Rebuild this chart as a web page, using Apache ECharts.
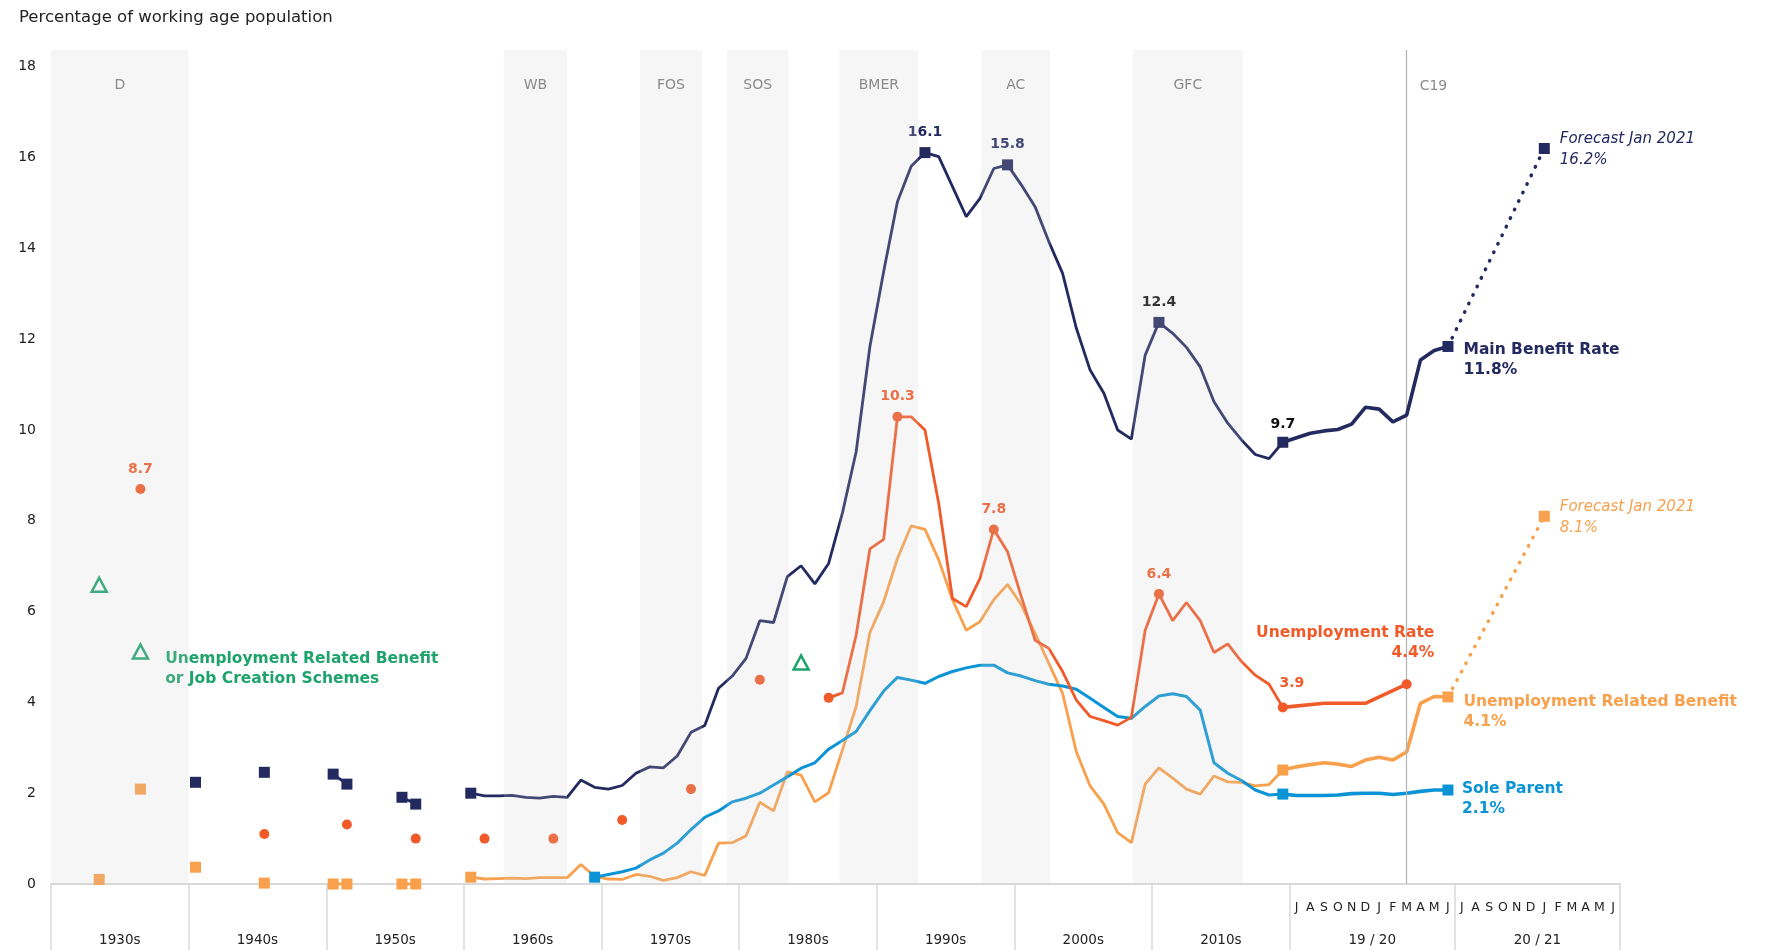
<!DOCTYPE html>
<html>
<head>
<meta charset="utf-8">
<script src="https://cdn.jsdelivr.net/npm/echarts@6/dist/echarts.min.js"></script>
<style>
html,body{margin:0;padding:0;background:#fff}
#chart{width:1780px;height:950px}
</style>
</head>
<body>
<div id="chart"></div>
<script>
// x axis cells: decades, then two July-June years shown month by month
var cellEdges = [1930,1940,1950,1960,1970,1980,1990,2000,2010,2020,2032,2044]
var cellLabels = ['1930s','1940s','1950s','1960s','1970s','1980s','1990s','2000s','2010s','19 / 20','20 / 21']
var monthLetters = ['J','A','S','O','N','D','J','F','M','A','M','J','J','A','S','O','N','D','J','F','M','A','M','J']

// shaded events [label, from, to]
var events = [['D',1930,1940],['WB',1962.9,1967.5],['FOS',1972.8,1977.3],['SOS',1979.1,1983.6],
	['BMER',1987.3,1993.0],['AC',1997.6,2002.6],['GFC',2008.6,2016.6]]
var covidMonth = 9      // March 2020, months after June 2019
var forecastMonth = 19  // January 2021

// Main Benefit Rate
var mainEarlyYears = [1940,1945,1950,1951,1955,1956]
var mainEarly = [2.24,2.46,2.42,2.20,1.91,1.76]
var mainFirstYear = 1960
var mainAnnual = [2.00,1.94,1.94,1.95,1.91,1.89,1.93,1.91,2.29,2.13,
	2.09,2.17,2.44,2.58,2.56,2.82,3.34,3.49,4.31,4.58,
	4.97,5.80,5.76,6.77,7.01,6.61,7.06,8.17,9.52,11.84,
	13.49,15.03,15.81,16.11,16.02,15.36,14.70,15.10,15.76,15.84,
	15.40,14.92,14.15,13.45,12.24,11.32,10.81,10.00,9.80,11.65,
	12.37,12.13,11.82,11.39,10.62,10.15,9.78,9.46,9.37,9.73]
var mainMonthly = [9.73,9.83,9.93,9.98,10.01,10.13,10.50,10.46,10.18,10.33,11.54,11.75,11.84] // Jun 2019 - Jun 2020
var mainForecast = 16.2
var mainPeaks = [1993,1999,2010,2019]

// Unemployment Rate
var urEarlyYears = [1936,1945,1951,1956,1961,1966,1971,1976,1981]
var urEarly = [8.7,1.10,1.31,1.00,1.00,1.00,1.41,2.09,4.50]
var urFirstYear = 1986
var urAnnual = [4.10,4.21,5.48,7.38,7.59,10.29,10.29,10.00,8.38,6.29,
	6.11,6.73,7.81,7.32,6.33,5.37,5.19,4.68,4.05,3.69,
	3.60,3.50,3.67,5.59,6.39,5.80,6.20,5.80,5.10,5.29,
	4.90,4.60,4.40,3.89]
var urQuarterMonths = [0,3,6,9]
var urQuarterly = [3.89,3.98,3.98,4.40]
var urPeaks = [1991,1998,2010]

// Unemployment Related Benefit
var urbEarlyYears = [1933,1936,1940,1945,1950,1951,1955,1956]
var urbEarly = [0.10,2.09,0.37,0.02,0,0,0,0]
var urbFirstYear = 1960
var urbAnnual = [0.15,0.11,0.12,0.13,0.12,0.14,0.14,0.14,0.43,0.17,
	0.11,0.10,0.21,0.17,0.08,0.14,0.27,0.19,0.90,0.91,
	1.06,1.80,1.61,2.47,2.40,1.81,2.01,2.95,3.91,5.54,
	6.22,7.17,7.89,7.81,7.14,6.26,5.59,5.78,6.26,6.60,
	6.15,5.52,4.86,4.20,2.91,2.16,1.76,1.13,0.91,2.20,
	2.56,2.33,2.09,1.98,2.38,2.25,2.24,2.16,2.19,2.51]
var urbMonthly = [2.51,2.58,2.63,2.67,2.64,2.59,2.73,2.79,2.73,2.91,3.98,4.13,4.12]
var urbForecast = 8.1

// Sole Parent
var soleFirstYear = 1969
var soleAnnual = [0.15,0.21,0.27,0.35,0.53,0.68,0.90,1.20,1.47,1.61,
	1.81,1.89,2.00,2.18,2.36,2.55,2.67,2.97,3.16,3.36,
	3.82,4.25,4.55,4.49,4.42,4.57,4.68,4.76,4.82,4.82,
	4.65,4.58,4.48,4.40,4.36,4.29,4.09,3.89,3.69,3.65,
	3.91,4.14,4.19,4.13,3.83,2.67,2.44,2.28,2.07,1.96,1.98]
var soleMonthly = [1.98,1.95,1.95,1.95,1.96,1.99,2.00,2.00,1.97,2.00,2.04,2.07,2.07]

// Unemployment Related Benefit or Job Creation Schemes
var jobYears = [1933,1936,1984]
var jobValues = [6.59,5.12,4.88]

var NAVY = '#232a5f', RED = '#f15a29', ORANGE = '#f8a04c', BLUE = '#0b94d5', GREEN = '#1ea36d'
var INK = '#222222', GREY = '#8a8a8a'
var FONT = 'DejaVu Sans'
var Y_MAX = 18.37

function yx(y){ return y + 0.5 }        // annual point sits mid-year
function mx(i){ return 2019.5 + i }     // i months after June 2019

function annual(first, vals){
	return vals.map(function(v, i){ return [yx(first + i), v] })
}
function monthly(vals){
	return vals.map(function(v, i){ return [mx(i), v] })
}
function withGaps(years, vals){ // join only consecutive years
	var out = []
	for(var i = 0; i < years.length; i++){
		if(i > 0 && years[i] - years[i-1] > 1) out.push([years[i] - 0.5, '-'])
		out.push([yx(years[i]), vals[i]])
	}
	return out
}
function line(data, color, width, z){
	return {type:'line', data:data, symbol:'none', silent:true, z:z,
		lineStyle:{color:color, width:width}, itemStyle:{color:color}}
}
function dotted(from, to, color, z){
	return {type:'line', data:[from, to], symbol:'none', silent:true, z:z,
		lineStyle:{color:color, width:3.5, type:[0.5, 9], cap:'round'}}
}
function peak(x, v, color, extra){
	var lab = {show:true, position:'top', distance:8, formatter:v.toFixed(1),
		color:color, fontWeight:'bold', fontSize:14}
	for(var k in extra) lab[k] = extra[k]
	return {value:[x, v], label:lab}
}
function endLabel(x, v, text, color, pos, italic){
	return {value:[x, v], label:{show:true, position:pos, align:'left', verticalAlign:'middle',
		formatter:text, color:color, fontSize: italic ? 15 : 15.5, lineHeight: italic ? 21 : 20,
		fontWeight: italic ? 'normal' : 'bold', fontStyle: italic ? 'italic' : 'normal'}}
}
function markers(data, symbol, size, color, z){
	return {type:'scatter', data:data, symbol:symbol, symbolSize:size, silent:true, z:z,
		itemStyle:{color:color, opacity:1}, label:{show:false}}
}

var mainLast = mainMonthly[mainMonthly.length-1]
var urbLast = urbMonthly[urbMonthly.length-1]
var soleLast = soleMonthly[soleMonthly.length-1]
var urLast = urQuarterly[urQuarterly.length-1]

var mainMarks = [{value:[yx(mainFirstYear), mainAnnual[0]]}]
mainPeaks.forEach(function(y){
	var v = mainAnnual[y - mainFirstYear]
	mainMarks.push(peak(yx(y), v, y >= 2010 ? '#111111' : NAVY, y == 2019 ? {distance:5} : {}))
})
mainMarks.push(endLabel(mx(12), mainLast, 'Main Benefit Rate\n' + mainLast.toFixed(1) + '%', NAVY, [21, 19.5]))
mainMarks.push(endLabel(mx(forecastMonth), mainForecast, 'Forecast Jan 2021\n' + mainForecast.toFixed(1) + '%', NAVY, [21, 7], true))

var urMarks = []
urEarlyYears.forEach(function(y, i){
	urMarks.push(i == 0 ? peak(yx(y), urEarly[i], RED) : {value:[yx(y), urEarly[i]]})
})
urMarks.push({value:[yx(urFirstYear), urAnnual[0]]})
urPeaks.forEach(function(y){ urMarks.push(peak(yx(y), urAnnual[y - urFirstYear], RED)) })
urMarks.push({value:[mx(0), urQuarterly[0]], label:{show:true, position:[14, -19], align:'center',
	verticalAlign:'middle', formatter:urQuarterly[0].toFixed(1), color:RED, fontWeight:'bold', fontSize:14}})
urMarks.push({value:[mx(urQuarterMonths[3]), urLast], label:{show:true, position:[32.7, -36], align:'right',
	verticalAlign:'middle', formatter:'Unemployment Rate\n' + urLast.toFixed(1) + '%', color:RED,
	fontWeight:'bold', fontSize:15.5, lineHeight:20}})

var urbMarks = [{value:[yx(urbFirstYear), urbAnnual[0]]}, {value:[mx(0), urbMonthly[0]]},
	endLabel(mx(12), urbLast, 'Unemployment Related Benefit\n' + urbLast.toFixed(1) + '%', ORANGE, [21, 20.5]),
	endLabel(mx(forecastMonth), urbForecast, 'Forecast Jan 2021\n' + urbForecast.toFixed(1) + '%', ORANGE, [21, 7], true)]

var soleMarks = [{value:[yx(soleFirstYear), soleAnnual[0]]}, {value:[mx(0), soleMonthly[0]]},
	endLabel(mx(12), soleLast, 'Sole Parent\n' + soleLast.toFixed(1) + '%', BLUE, [19.5, 14])]

var jobMarks = jobYears.map(function(y, i){
	var d = {value:[yx(y), jobValues[i]]}
	if(i == 1) d.label = {show:true, position:[33.5, 25.5], align:'left', verticalAlign:'middle',
		formatter:'Unemployment Related Benefit\nor Job Creation Schemes', color:GREEN,
		fontWeight:'bold', fontSize:15.5, lineHeight:20}
	return d
})

var cellMids = []
for(var i = 0; i < cellEdges.length - 1; i++) cellMids.push((cellEdges[i] + cellEdges[i+1]) / 2)
var monthMids = monthLetters.map(function(m, i){ return 2020.5 + i })

var chart = echarts.init(document.getElementById('chart'))
chart.setOption({
	animation:false,
	textStyle:{fontFamily:FONT},
	title:{text:'Percentage of working age population', left:14, top:4,
		textStyle:{fontFamily:FONT, fontSize:16.5, fontWeight:'normal', color:INK}},
	grid:{left:51, right:160, top:50, bottom:66},
	xAxis:[{
		type:'value', min:1930, max:2044, position:'bottom',
		axisLine:{show:true, onZero:false, lineStyle:{color:'#d9d9d9', width:2}},
		axisTick:{show:true, customValues:cellEdges, length:66, lineStyle:{color:'#d9d9d9', width:1.5}},
		axisLabel:{customValues:cellMids, margin:49, fontSize:13.5, color:INK,
			formatter:function(v){
				for(var i = 0; i < cellMids.length; i++) if(Math.abs(cellMids[i] - v) < 0.01) return cellLabels[i]
				return ''
			}},
		splitLine:{show:false}
	},{
		type:'value', min:1930, max:2044, position:'bottom',
		axisLine:{show:false}, axisTick:{show:false}, splitLine:{show:false},
		axisLabel:{customValues:monthMids, margin:17, fontSize:12.5, color:INK,
			formatter:function(v){ return monthLetters[Math.round(v - 2020.5)] || '' }}
	}],
	yAxis:{type:'value', min:0, max:Y_MAX, interval:2,
		axisLine:{show:false}, axisTick:{show:false}, splitLine:{show:false},
		axisLabel:{fontSize:14, color:INK, margin:15,
			formatter:function(v){ return (Math.abs(v % 2) < 1e-6) ? String(Math.round(v)) : '' }}},
	series:[
		// C19 marker line
		{type:'line', data:[], z:1, silent:true,
			markLine:{silent:true, symbol:'none', label:{show:false},
				lineStyle:{color:'#b4b4b4', width:1.2, type:'solid'},
				data:[{xAxis:mx(covidMonth)}]}},
		line(withGaps(urbEarlyYears, urbEarly), ORANGE, 2.8, 3),
		line(annual(urbFirstYear, urbAnnual), ORANGE, 2.8, 3),
		line(monthly(urbMonthly), ORANGE, 3.6, 3),
		dotted([mx(12), urbLast], [mx(forecastMonth), urbForecast], ORANGE, 3),
		line(annual(soleFirstYear, soleAnnual), BLUE, 3, 4),
		line(monthly(soleMonthly), BLUE, 3.6, 4),
		line(annual(urFirstYear, urAnnual), RED, 2.8, 5),
		line(urQuarterMonths.map(function(m, i){ return [mx(m), urQuarterly[i]] }), RED, 3.6, 5),
		line(withGaps(mainEarlyYears, mainEarly), NAVY, 2.8, 6),
		line(annual(mainFirstYear, mainAnnual), NAVY, 2.8, 6),
		line(monthly(mainMonthly), NAVY, 3.6, 6),
		dotted([mx(12), mainLast], [mx(forecastMonth), mainForecast], NAVY, 6),
		markers(withGaps(urbEarlyYears, urbEarly).filter(function(d){ return d[1] !== '-' }), 'rect', 11, ORANGE, 7),
		markers(urbMarks, 'rect', 11, ORANGE, 7),
		markers(soleMarks, 'rect', 11, BLUE, 7),
		markers(urMarks, 'circle', 10, RED, 7),
		markers(withGaps(mainEarlyYears, mainEarly).filter(function(d){ return d[1] !== '-' }), 'rect', 11, NAVY, 7),
		markers(mainMarks, 'rect', 11, NAVY, 7),
		{type:'scatter', data:jobMarks, symbol:'triangle', symbolSize:[15, 14], silent:true, z:7,
			itemStyle:{color:'#ffffff', borderColor:GREEN, borderWidth:2.5, opacity:1}},
		// event shading sits over the lines and lightens them
		{type:'line', data:[], z:10, silent:true,
			markArea:{z:10, silent:true, itemStyle:{color:'rgba(208,208,208,0.19)'},
				label:{show:true, position:'insideTop', distance:28, color:GREY, fontSize:14, fontFamily:FONT},
				data:events.map(function(e){ return [{name:e[0], xAxis:e[1]}, {xAxis:e[2]}] })}}
	]
})

// C19 label beside its line
var p = chart.convertToPixel({xAxisIndex:0, yAxisIndex:0}, [mx(covidMonth), Y_MAX])
chart.setOption({graphic:[{type:'text', x:p[0] + 13, y:p[1] + 36, silent:true,
	style:{text:'C19', fill:GREY, font:'14px "DejaVu Sans"', verticalAlign:'middle'}}]})
</script>
</body>
</html>
